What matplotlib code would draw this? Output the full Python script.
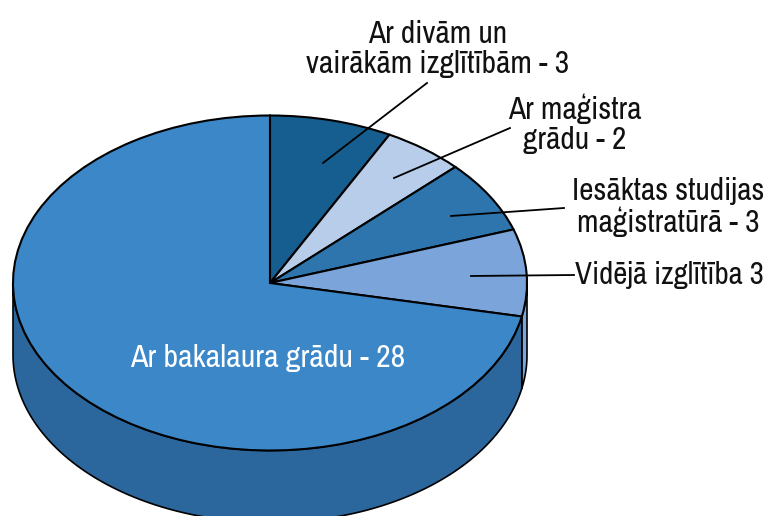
import matplotlib
matplotlib.use('Agg')
import matplotlib.pyplot as plt
import numpy as np

plt.rcParams['font.family'] = ['Archivo Narrow', 'Liberation Sans Narrow', 'Roboto', 'DejaVu Sans']

# slice sizes as they are drawn, the 3rd and 4th differ a bit from their printed labels
values = [3, 2, 2.73, 3.27, 28]
top_colors = ['#165e8f', '#b8cde9', '#2e75ad', '#7ba5da', '#3b87c8']
side_colors = ['#165e8f', '#b8cde9', '#2e75ad', '#7ba5da', '#2b669c']
labels = ['Ar divām un\nvairākām izglītībām - 3',
          'Ar maģistra\ngrādu - 2',
          'Iesāktas studijas\nmaģistratūrā - 3',
          'Vidējā izglītība 3',
          'Ar bakalaura grādu - 28']

W, H = 767, 516
CX, CY = 270, 283  # pie centre in pixels
RX, RY = 257, 167.5
DEPTH = 72


def px(x, y):
    return (x - CX) / RX, (CY - y) / RY


fig = plt.figure(figsize=(W / 100, H / 100), dpi=100)
ax = fig.add_axes([0, 0, 1, 1])

# side of the disc, only the part facing the viewer
edges = 90 - 360 * np.cumsum([0] + values) / sum(values)
for i in range(len(values)):
    t1 = min(edges[i], 0)
    t2 = max(edges[i + 1], -180)
    if t1 <= t2:
        continue
    t = np.radians(np.linspace(t1, t2, 120))
    xs = np.concatenate([np.cos(t), np.cos(t[::-1])])
    ys = np.concatenate([np.sin(t), np.sin(t[::-1]) - DEPTH / RY])
    ax.fill(xs, ys, facecolor=side_colors[i], edgecolor='black', lw=1.2, joinstyle='round')

ax.pie(values, colors=top_colors, startangle=90, counterclock=False, radius=1,
       wedgeprops={'edgecolor': 'black', 'linewidth': 1.5})

ax.set_aspect('auto')
ax.set_xlim(px(0, 0)[0], px(W, 0)[0])
ax.set_ylim(px(0, H)[1], px(0, 0)[1])
ax.axis('off')

# leader lines
leaders = [((323, 163), (427, 83)),
           ((394, 178), (510, 128)),
           ((451, 216), (564, 208)),
           ((471, 276), (574, 275))]
for a, b in leaders:
    p, q = px(*a), px(*b)
    ax.plot([p[0], q[0]], [p[1], q[1]], color='black', lw=1.3)

text_pos = [(438, 73), (575, 149), (668, 232)]
for label, pos in zip(labels[:3], text_pos):
    x, y = px(*pos)
    ax.text(x, y, label, fontsize=22.6, color='#111111', ha='center', va='baseline',
            multialignment='center', linespacing=1.07)

x, y = px(575, 284)
ax.text(x, y, labels[3], fontsize=22.3, color='#111111', ha='left', va='baseline')
x, y = px(130, 367)
ax.text(x, y, labels[4], fontsize=23, color='white', ha='left', va='baseline')

fig.savefig('out.png', dpi=100)
